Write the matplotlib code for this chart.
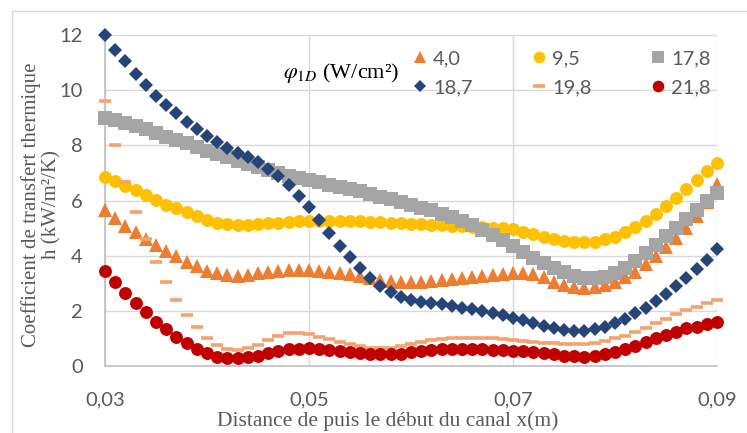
import matplotlib
matplotlib.use('Agg')
import matplotlib.pyplot as plt
from matplotlib.patches import Rectangle
import numpy as np

# Position le long du canal (m)
x = np.round(np.arange(0.030, 0.0905, 0.001), 3)

# Coefficient h (kW/m2/K) pour chaque flux phi_1D (W/cm2)
h_40 = [5.65, 5.37, 5.08, 4.84, 4.59, 4.38, 4.18, 3.99, 3.78, 3.62,
        3.44, 3.36, 3.30, 3.27, 3.30, 3.36, 3.42, 3.44, 3.48, 3.48,
        3.48, 3.46, 3.42, 3.38, 3.32, 3.25, 3.18, 3.12, 3.08, 3.06,
        3.05, 3.06, 3.08, 3.12, 3.16, 3.20, 3.24, 3.28, 3.30, 3.33,
        3.36, 3.38, 3.35, 3.22, 3.05, 2.95, 2.88, 2.84, 2.85, 2.92,
        3.05, 3.22, 3.42, 3.68, 3.98, 4.30, 4.65, 5.02, 5.42, 5.95, 6.60]
h_95 = [6.86, 6.70, 6.53, 6.38, 6.20, 6.01, 5.85, 5.72, 5.58, 5.42,
        5.30, 5.20, 5.13, 5.11, 5.11, 5.13, 5.17, 5.20, 5.23, 5.25,
        5.26, 5.26, 5.26, 5.26, 5.25, 5.24, 5.23, 5.21, 5.19, 5.17,
        5.15, 5.13, 5.11, 5.10, 5.08, 5.07, 5.05, 5.03, 5.01, 4.99,
        4.96, 4.87, 4.77, 4.68, 4.62, 4.54, 4.50, 4.48, 4.50, 4.59,
        4.68, 4.84, 5.03, 5.25, 5.50, 5.80, 6.10, 6.43, 6.74, 7.07, 7.37]
h_178 = [9.00, 8.92, 8.82, 8.70, 8.58, 8.45, 8.32, 8.20, 8.07, 7.93,
         7.80, 7.68, 7.56, 7.44, 7.32, 7.20, 7.10, 7.00, 6.90, 6.82,
         6.74, 6.66, 6.58, 6.50, 6.42, 6.33, 6.24, 6.14, 6.04, 5.94,
         5.84, 5.74, 5.64, 5.52, 5.40, 5.26, 5.10, 4.94, 4.76, 4.56,
         4.36, 4.14, 3.92, 3.72, 3.54, 3.40, 3.28, 3.20, 3.18, 3.24,
         3.36, 3.56, 3.80, 4.08, 4.38, 4.70, 5.02, 5.34, 5.66, 5.98, 6.28]
h_187 = [12.0, 11.47, 11.05, 10.60, 10.18, 9.79, 9.46, 9.16, 8.85, 8.61,
         8.33, 8.13, 7.92, 7.74, 7.56, 7.38, 7.16, 6.88, 6.56, 6.16,
         5.75, 5.30, 4.83, 4.36, 3.94, 3.54, 3.20, 2.91, 2.67, 2.49,
         2.39, 2.33, 2.29, 2.24, 2.17, 2.11, 2.07, 1.99, 1.93, 1.85,
         1.75, 1.67, 1.57, 1.46, 1.36, 1.30, 1.27, 1.27, 1.34, 1.42,
         1.57, 1.70, 1.91, 2.11, 2.36, 2.61, 2.91, 3.20, 3.51, 3.84, 4.24]
h_198 = [9.60, 8.00, 6.68, 5.60, 4.60, 3.76, 3.03, 2.40, 1.85, 1.40,
         1.01, 0.76, 0.60, 0.58, 0.64, 0.76, 0.94, 1.10, 1.18, 1.20,
         1.15, 1.06, 0.97, 0.88, 0.80, 0.72, 0.67, 0.65, 0.67, 0.72,
         0.80, 0.87, 0.93, 0.97, 1.00, 1.02, 1.03, 1.02, 1.00, 0.98,
         0.96, 0.92, 0.88, 0.85, 0.82, 0.80, 0.79, 0.80, 0.85, 0.91,
         1.00, 1.10, 1.24, 1.39, 1.55, 1.72, 1.88, 2.03, 2.15, 2.27, 2.40]
h_218 = [3.44, 3.03, 2.63, 2.27, 1.94, 1.61, 1.33, 1.06, 0.82, 0.62,
         0.46, 0.34, 0.28, 0.28, 0.32, 0.37, 0.46, 0.54, 0.60, 0.63,
         0.64, 0.62, 0.58, 0.54, 0.50, 0.46, 0.43, 0.42, 0.42, 0.45,
         0.50, 0.54, 0.58, 0.60, 0.62, 0.62, 0.62, 0.60, 0.58, 0.57,
         0.56, 0.53, 0.50, 0.46, 0.42, 0.38, 0.35, 0.34, 0.36, 0.42,
         0.50, 0.62, 0.74, 0.88, 1.03, 1.12, 1.24, 1.36, 1.42, 1.51, 1.61]

labels = ['4,0', '9,5', '17,8', '18,7', '19,8', '21,8']
x_ticks = [0.03, 0.05, 0.07, 0.09]
x_tick_labels = ['0,03', '0,05', '0,07', '0,09']
y_ticks = [0, 2, 4, 6, 8, 10, 12]

gris = '#595959'
sans = 'Lato'
serif = 'Liberation Serif'
plt.rcParams['mathtext.fontset'] = 'stix'

fig = plt.figure(figsize=(7.47, 4.33), dpi=100)
ax = fig.add_axes([105/747, 1-366/433, 612/747, 331/433])

# cadre extérieur
fig.patches.append(Rectangle((12/747, -0.05), 1.0, 0.9746+0.05, transform=fig.transFigure,
                             fill=False, ec='#D9D9D9', lw=1))

series = [
    (h_40, '^', '#ED7D31', 9.5, 0),
    (h_95, 'o', '#FFC000', 9.3, 0),
    (h_178, 's', '#A5A5A5', 9.4, 0),
    (h_187, 'D', '#264478', 7.2, 0),
    (h_198, '_', '#F4A36F', 9.0, 2.6),
    (h_218, 'o', '#C00000', 9.3, 0),
]
handles = []
for (h, m, c, ms, mew), lab in zip(series, labels):
    l, = ax.plot(x, h, linestyle='none', marker=m, color=c, markersize=ms,
                 markeredgewidth=mew, clip_on=False, label=lab, zorder=3)
    handles.append(l)

ax.set_xlim(0.03, 0.09)
ax.set_ylim(0, 12)
ax.set_xticks(x_ticks)
ax.set_xticklabels(x_tick_labels)
ax.set_yticks(y_ticks)
ax.grid(True, color='#D9D9D9', lw=1, zorder=0)
ax.set_axisbelow(True)
for s in ['top', 'right']:
    ax.spines[s].set_visible(False)
for s in ['left', 'bottom']:
    ax.spines[s].set_color('#BFBFBF')
    ax.spines[s].set_linewidth(1.2)
ax.tick_params(length=0, labelsize=14.5, labelcolor=gris)
ax.tick_params(axis='y', pad=16)
ax.tick_params(axis='x', pad=18)
for t in ax.get_xticklabels() + ax.get_yticklabels():
    t.set_fontfamily(sans)

# légende en 2 lignes x 3 colonnes
order = [0, 3, 1, 4, 2, 5]
leg = ax.legend([handles[i] for i in order], [labels[i] for i in order], ncol=3,
                loc='upper left', bbox_to_anchor=(414/747, 1-50/433),
                bbox_transform=fig.transFigure, frameon=False,
                borderpad=0, borderaxespad=0, handlelength=0.6, handletextpad=0.35,
                columnspacing=3.0, labelspacing=0.6, markerscale=0.9,
                prop={'family': sans, 'size': 14.5})
for t in leg.get_texts():
    t.set_color(gris)

fig.text(283/747, 1-73/433, r'$\varphi_{1D}$ (W/cm²)', ha='left', va='center',
         fontsize=16, family=serif, color='black')

fig.text(41/747, 1-205/433, 'Coefficient de transfert thermique\nh (kW/m²/K)',
         rotation=90, ha='center', va='center', multialignment='center',
         fontsize=15, family=serif, color=gris, linespacing=1.1)
fig.text(388/747, 1-421/433, 'Distance de puis le début du canal x(m)',
         ha='center', va='center', fontsize=15.5, family=serif, color=gris)

fig.savefig('out.png', dpi=100)
